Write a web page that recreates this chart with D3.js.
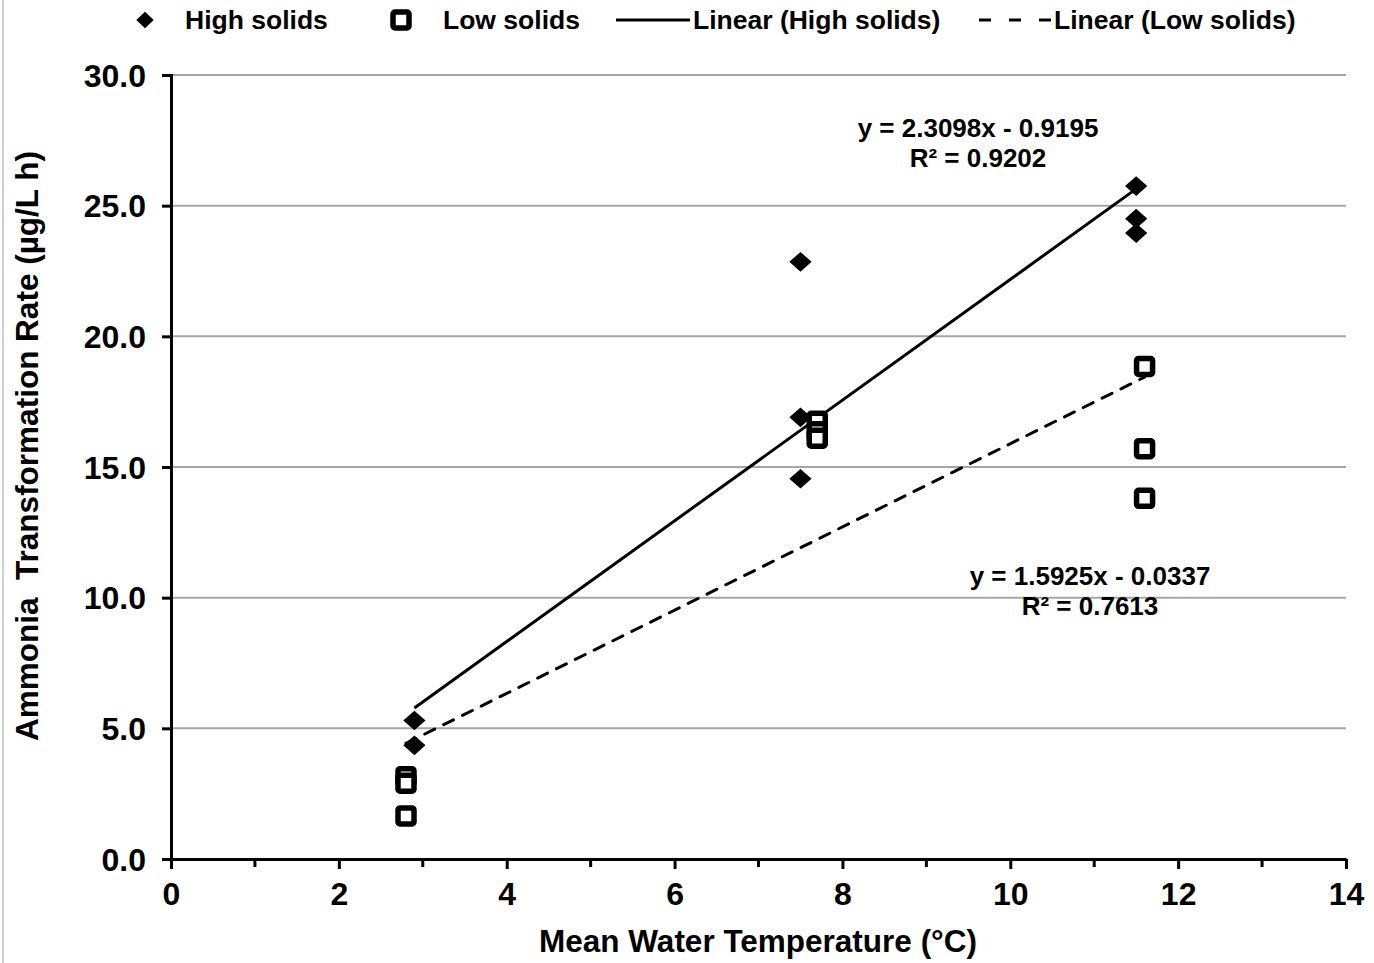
<!DOCTYPE html>
<html>
<head>
<meta charset="utf-8">
<script src="https://cdn.jsdelivr.net/npm/d3@7"></script>
<style>
  body { margin: 0; background: #fff; }
  text { font-family: "Liberation Sans", Arial, sans-serif; font-weight: bold; fill: #000; }
</style>
</head>
<body>
<svg id="chart" width="1374" height="963"></svg>
<script>
// valores
var highX = [2.9, 2.9, 7.5, 7.5, 7.5, 11.5, 11.5, 11.5];
var highY = [5.3, 4.35, 22.85, 16.9, 14.55, 25.75, 24.5, 23.95];
var lowX = [2.8, 2.8, 2.8, 7.7, 7.7, 7.7, 11.6, 11.6, 11.6];
var lowY = [3.15, 2.9, 1.65, 16.75, 16.35, 16.1, 18.85, 15.7, 13.8];

// tendencias (coeficientes do Excel)
var trendHigh = { slope: 2.3098, intercept: -0.9195, eq: "y = 2.3098x - 0.9195", r2: "R² = 0.9202" };
var trendLow = { slope: 1.5925, intercept: -0.0337, eq: "y = 1.5925x - 0.0337", r2: "R² = 0.7613" };

var xTicks = [0, 2, 4, 6, 8, 10, 12, 14];
var xMinorTicks = [1, 3, 5, 7, 9, 11, 13];
var yTicks = [0, 5, 10, 15, 20, 25, 30];

var svg = d3.select("#chart");

var xScale = d3.scaleLinear().domain([0, 14]).range([171, 1346]);
var yScale = d3.scaleLinear().domain([0, 30]).range([859, 75]);

// borda esquerda da imagem
svg.append("line").attr("x1", 3).attr("x2", 3).attr("y1", 0).attr("y2", 963)
  .attr("stroke", "#cfcfcf").attr("stroke-width", 2);

// linhas de grade
svg.append("g").selectAll("line")
  .data(yTicks.filter(function(d) { return d > 0; }))
  .enter().append("line")
  .attr("x1", xScale(0)).attr("x2", xScale(14))
  .attr("y1", function(d) { return yScale(d); })
  .attr("y2", function(d) { return yScale(d); })
  .attr("stroke", "#a6a6a6").attr("stroke-width", 2);

// eixo y
var yAxis = d3.axisLeft(yScale).tickValues(yTicks).tickSize(9).tickPadding(16)
  .tickFormat(function(d) { return d3.format(".1f")(d); });
var gy = svg.append("g").attr("transform", "translate(" + xScale(0) + ",0)").call(yAxis);
gy.select(".domain").attr("stroke", "#000").attr("stroke-width", 3);
gy.selectAll(".tick line").attr("stroke", "#000").attr("stroke-width", 3);
gy.selectAll(".tick text").style("font-size", "32px").attr("dy", "0.35em");

// eixo x
var xAxis = d3.axisBottom(xScale).tickValues(xTicks).tickSize(10).tickPadding(13).tickSizeOuter(0);
var gx = svg.append("g").attr("transform", "translate(0," + yScale(0) + ")").call(xAxis);
gx.select(".domain").attr("stroke", "#000").attr("stroke-width", 3);
gx.selectAll(".tick line").attr("stroke", "#000").attr("stroke-width", 3);
gx.selectAll(".tick text").style("font-size", "32px");

gx.selectAll(".minor").data(xMinorTicks).enter().append("line")
  .attr("class", "minor")
  .attr("x1", function(d) { return xScale(d); })
  .attr("x2", function(d) { return xScale(d); })
  .attr("y1", 0).attr("y2", 8)
  .attr("stroke", "#000").attr("stroke-width", 3);

// linhas de tendencia
function desenhaTendencia(xs, t, dash) {
  var x0 = d3.min(xs), x1 = d3.max(xs);
  svg.append("line")
    .attr("x1", xScale(x0)).attr("y1", yScale(t.slope * x0 + t.intercept))
    .attr("x2", xScale(x1)).attr("y2", yScale(t.slope * x1 + t.intercept))
    .attr("stroke", "#000").attr("stroke-width", 3)
    .attr("stroke-dasharray", dash ? "11,10" : null)
    .attr("stroke-linecap", dash ? "round" : "butt");
}
desenhaTendencia(highX, trendHigh, false);
desenhaTendencia(lowX, trendLow, true);

// losango = quadrado girado 45 graus
var losango = d3.symbol().type(d3.symbolSquare).size(225);

// pontos high solids
svg.append("g").selectAll("path")
  .data(highX.map(function(x, i) { return [x, highY[i]]; }))
  .enter().append("path")
  .attr("d", losango)
  .attr("transform", function(d) {
    return "translate(" + xScale(d[0]) + "," + yScale(d[1]) + ") scale(1.05,0.93) rotate(45)";
  })
  .attr("fill", "#000");

// pontos low solids
svg.append("g").selectAll("rect")
  .data(lowX.map(function(x, i) { return [x, lowY[i]]; }))
  .enter().append("rect")
  .attr("x", function(d) { return xScale(d[0]) - 8; })
  .attr("y", function(d) { return yScale(d[1]) - 8; })
  .attr("width", 16).attr("height", 16)
  .attr("rx", 2)
  .attr("fill", "#fff").attr("stroke", "#000").attr("stroke-width", 5.5);

// equacoes
function equacao(t, cx, y) {
  svg.append("text").attr("x", cx).attr("y", y).attr("text-anchor", "middle")
    .style("font-size", "26px").text(t.eq);
  svg.append("text").attr("x", cx).attr("y", y + 30).attr("text-anchor", "middle")
    .style("font-size", "26px").text(t.r2);
}
equacao(trendHigh, 978, 137);
equacao(trendLow, 1090, 585);

// titulos dos eixos
svg.append("text").attr("x", 758).attr("y", 952).attr("text-anchor", "middle")
  .style("font-size", "31.5px").text("Mean Water Temperature (°C)");
svg.append("text")
  .attr("transform", "translate(38,446) rotate(-90)")
  .attr("text-anchor", "middle")
  .style("font-size", "31.5px").style("white-space", "pre")
  .text("Ammonia  Transformation Rate (µg/L h)");

// legenda
var leg = svg.append("g");
leg.append("path").attr("d", d3.symbol().type(d3.symbolSquare).size(150))
  .attr("transform", "translate(145,20) scale(1.0,0.95) rotate(45)").attr("fill", "#000");
leg.append("text").attr("x", 185).attr("y", 29).style("font-size", "26.5px").text("High solids");
leg.append("rect").attr("x", 393).attr("y", 12).attr("width", 16).attr("height", 16).attr("rx", 2)
  .attr("fill", "#fff").attr("stroke", "#000").attr("stroke-width", 5.5);
leg.append("text").attr("x", 443).attr("y", 29).style("font-size", "26.5px").text("Low solids");
leg.append("line").attr("x1", 616).attr("x2", 690).attr("y1", 20).attr("y2", 20)
  .attr("stroke", "#000").attr("stroke-width", 3);
leg.append("text").attr("x", 693).attr("y", 29).style("font-size", "26.5px").text("Linear (High solids)");
leg.append("line").attr("x1", 979).attr("x2", 1051).attr("y1", 20).attr("y2", 20)
  .attr("stroke", "#000").attr("stroke-width", 3).attr("stroke-dasharray", "12,18");
leg.append("text").attr("x", 1054).attr("y", 29).style("font-size", "26.5px").text("Linear (Low solids)");
</script>
</body>
</html>
